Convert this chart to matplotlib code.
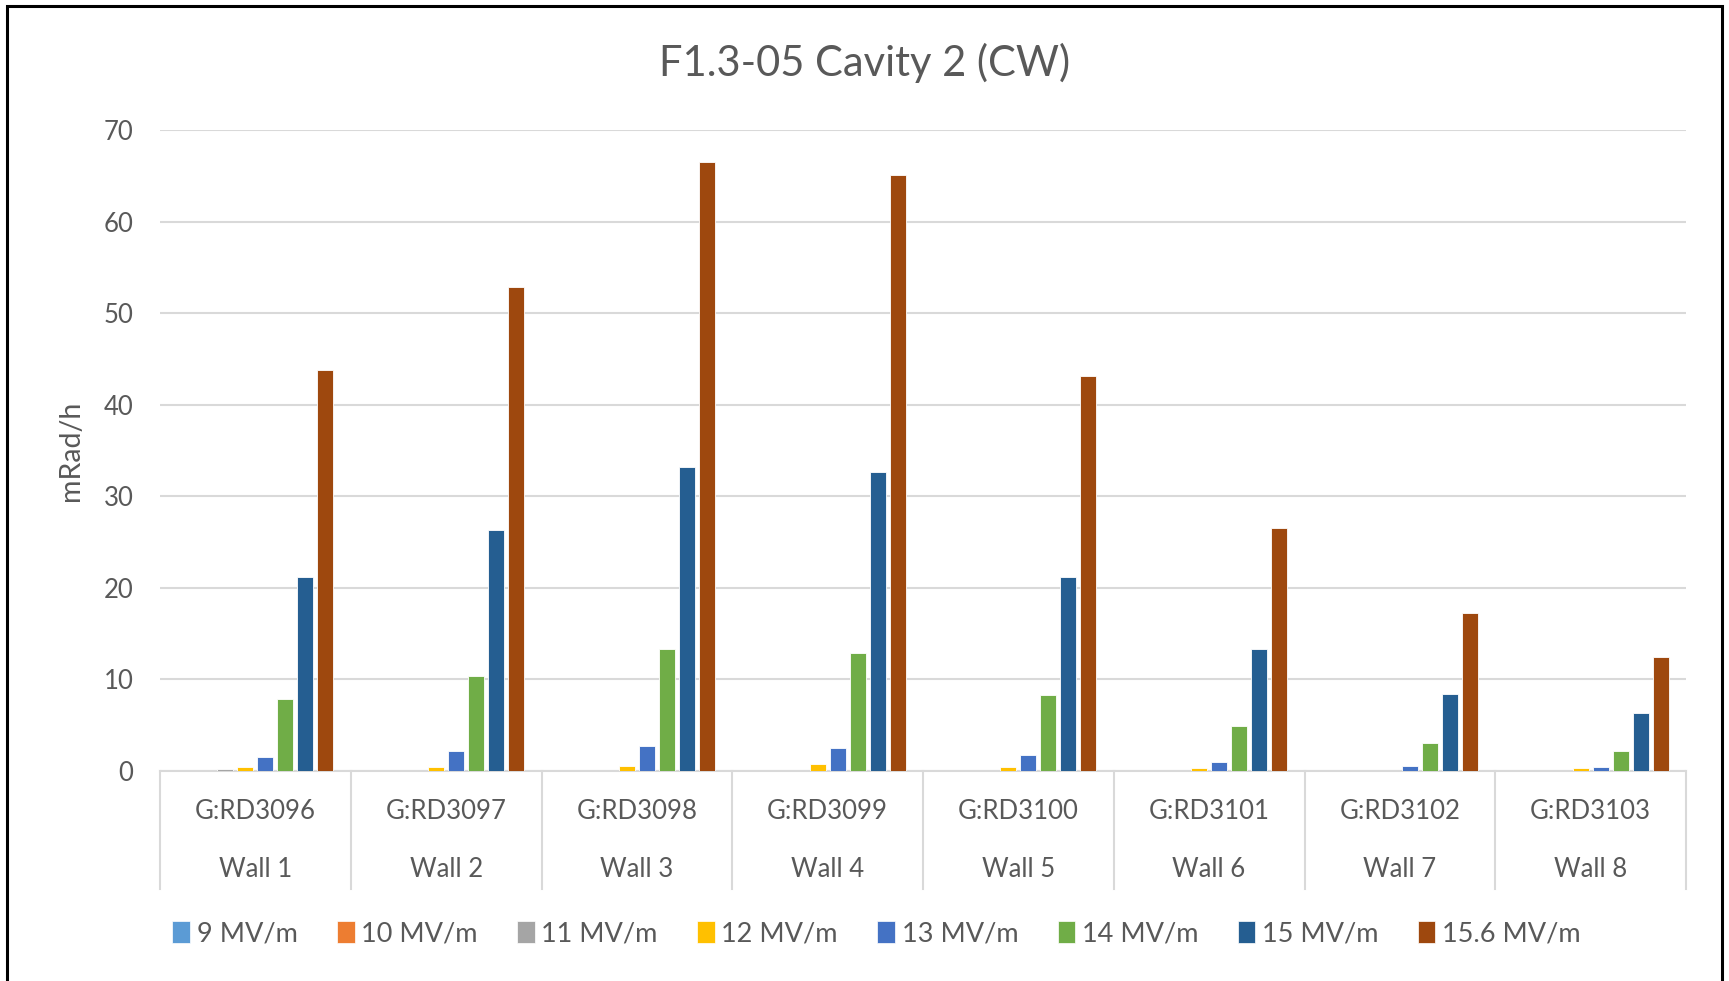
import matplotlib
matplotlib.use('Agg')

import matplotlib.pyplot as plt
import numpy as np
from matplotlib.patches import Patch, Rectangle
import matplotlib.transforms as mtransforms

plt.rcParams['font.family'] = ['Lato', 'DejaVu Sans']

# dose rate per wall detector (mRad/h) at each gradient
detectors = ['G:RD3096', 'G:RD3097', 'G:RD3098', 'G:RD3099',
             'G:RD3100', 'G:RD3101', 'G:RD3102', 'G:RD3103']
walls = ['Wall 1', 'Wall 2', 'Wall 3', 'Wall 4',
         'Wall 5', 'Wall 6', 'Wall 7', 'Wall 8']
gradients = ['9 MV/m', '10 MV/m', '11 MV/m', '12 MV/m',
             '13 MV/m', '14 MV/m', '15 MV/m', '15.6 MV/m']

dose_9 = [0, 0, 0, 0, 0, 0, 0, 0]
dose_10 = [0, 0, 0, 0, 0, 0, 0, 0]
dose_11 = [0.2, 0, 0, 0, 0, 0, 0, 0]
dose_12 = [0.4, 0.4, 0.6, 0.8, 0.4, 0.3, 0, 0.3]
dose_13 = [1.5, 2.2, 2.7, 2.5, 1.7, 1.0, 0.6, 0.4]
dose_14 = [7.9, 10.4, 13.3, 12.9, 8.3, 4.9, 3.1, 2.2]
dose_15 = [21.2, 26.3, 33.2, 32.7, 21.2, 13.3, 8.4, 6.3]
dose_156 = [43.8, 52.9, 66.5, 65.1, 43.1, 26.5, 17.3, 12.5]

series = [dose_9, dose_10, dose_11, dose_12, dose_13, dose_14, dose_15, dose_156]
colors = ['#5B9BD5', '#ED7D31', '#A5A5A5', '#FFC000',
          '#4472C4', '#70AD47', '#255E91', '#9E480E']

txt = '#595959'
grid_c = '#D9D9D9'

fig = plt.figure(figsize=(17.29, 9.81), dpi=100)
ax = fig.add_axes([160 / 1729, 1 - 771 / 981, (1686 - 160) / 1729, (771 - 130) / 981])

x = np.arange(len(detectors))
step = 0.105
width = 0.084
for i, (vals, c) in enumerate(zip(series, colors)):
    ax.bar(x + (i - 3.5) * step, vals, width, color=c,
           edgecolor='white', linewidth=0.6, zorder=3)

ax.set_xlim(-0.5, len(detectors) - 0.5)
ax.set_ylim(0, 70)
ax.set_yticks(range(0, 71, 10))
ax.yaxis.grid(True, color=grid_c, linewidth=1.5, zorder=0)
ax.tick_params(axis='y', length=0, pad=19, labelsize=18.5, labelcolor=txt)
ax.set_xticks([])
for s in ['top', 'right', 'left']:
    ax.spines[s].set_visible(False)
ax.spines['bottom'].set_color(grid_c)
ax.spines['bottom'].set_linewidth(1.5)

ax.set_ylabel('mRad/h', fontsize=20.5, color=txt, labelpad=14)

# two-level category axis: detector name above wall name, with dividers
trans = mtransforms.blended_transform_factory(ax.transData, ax.transAxes)
for b in np.arange(-0.5, len(detectors), 1.0):
    ax.plot([b, b], [0, -0.184], transform=trans, color=grid_c,
            linewidth=1.5, clip_on=False)
for xi, d, w in zip(x, detectors, walls):
    ax.text(xi, -0.0635, d, transform=trans, ha='center', va='center',
            fontsize=18.5, color=txt)
    ax.text(xi, -0.1544, w, transform=trans, ha='center', va='center',
            fontsize=18.5, color=txt)

fig.text(0.5, 1 - 63 / 981, 'F1.3-05 Cavity 2 (CW)', ha='center', va='center',
         fontsize=30, color=txt)

handles = [Patch(facecolor=c, edgecolor='white', linewidth=0.5) for c in colors]
leg = fig.legend(handles, gradients, loc='center', bbox_to_anchor=(0.507, 1 - 934 / 981),
                 ncol=8, frameon=False, fontsize=19.5, handlelength=0.65,
                 handleheight=0.85, handletextpad=0.25, columnspacing=1.45)
for t in leg.get_texts():
    t.set_color(txt)

# outer frame
fig.patches.append(Rectangle((7 / 1729, -0.02), (1722 - 7) / 1729, 1 - 6 / 981 + 0.02,
                             transform=fig.transFigure, fill=False,
                             edgecolor='black', linewidth=2.2))

fig.savefig('out.png', dpi=100)
